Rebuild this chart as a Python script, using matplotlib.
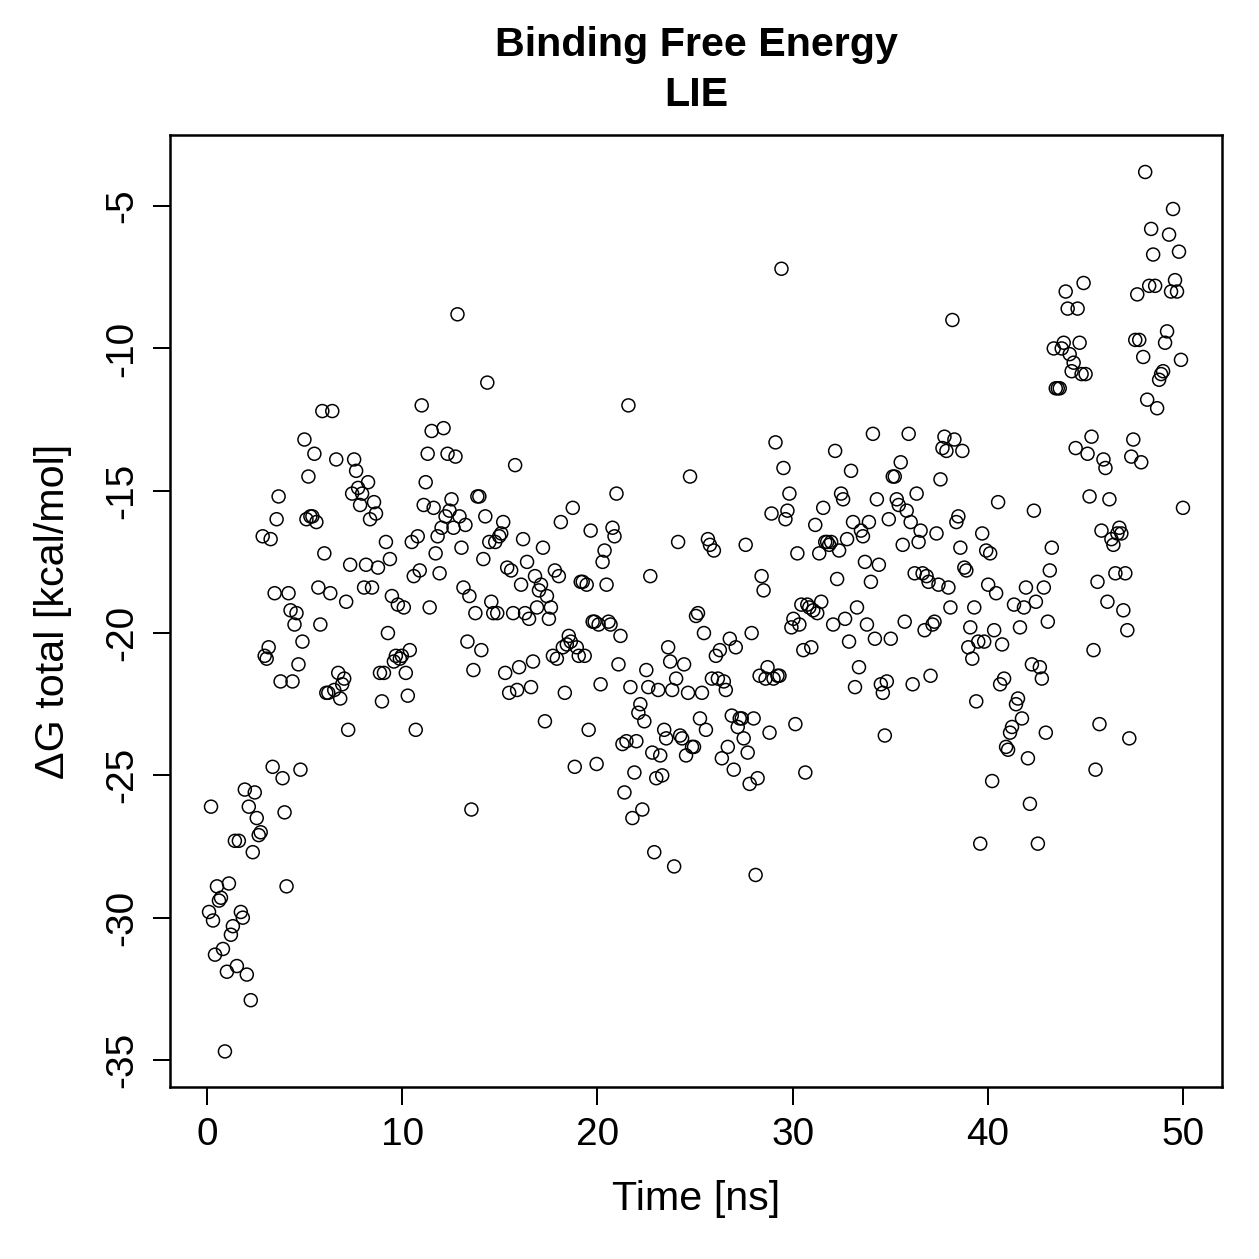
import numpy as np
import matplotlib
matplotlib.use("Agg")
import matplotlib.pyplot as plt

plt.rcParams["font.family"] = ["Liberation Sans", "DejaVu Sans"]

# dG total per frame [kcal/mol], 0-50 ns
dg_0_5 = [-29.8, -26.1, -30.1, -31.3, -28.9, -29.4, -29.3, -31.1, -34.7, -31.9,
          -28.8, -30.6, -30.3, -27.3, -31.7, -27.3, -29.8, -30.0, -25.5, -32.0,
          -26.1, -32.9, -27.7, -25.6, -26.5, -27.1, -27.0, -16.6, -20.8, -20.9,
          -20.5, -16.7, -24.7, -18.6, -16.0, -15.2, -21.7, -25.1, -26.3, -28.9,
          -18.6, -19.2, -21.7, -19.7, -19.3, -21.1, -24.8, -20.3, -13.2, -16.0,
          -14.5]
dg_5_10 = [-15.9, -15.9, -13.7, -16.1, -18.4, -19.7, -12.2, -17.2, -22.1, -22.1,
           -18.6, -12.2, -22.0, -13.9, -21.4, -22.3, -21.8, -21.6, -18.9, -23.4,
           -17.6, -15.1, -13.9, -14.3, -14.9, -15.5, -15.1, -18.4, -17.6, -14.7,
           -16.0, -18.4, -15.4, -15.8, -17.7, -21.4, -22.4, -21.4, -16.8, -20.0,
           -17.4, -18.7, -21.0, -20.8, -19.0, -20.9, -20.8, -19.1]
dg_10_15 = [-21.4, -22.2, -20.6, -16.8, -18.0, -23.4, -16.6, -17.8, -12.0, -15.5,
            -14.7, -13.7, -19.1, -12.9, -15.6, -17.2, -16.6, -17.9, -16.3, -12.8,
            -15.9, -13.7, -15.7, -15.3, -16.3, -13.8, -8.8, -15.9, -17.0, -18.4,
            -16.2, -20.3, -18.7, -26.2, -21.3, -19.3, -15.2, -15.2, -20.6, -17.4,
            -15.9, -11.2, -16.8, -18.9, -19.3, -16.8, -19.3, -16.6, -16.5]
dg_15_20 = [-16.1, -21.4, -17.7, -22.1, -17.8, -19.3, -14.1, -22.0, -21.2, -18.3,
            -16.7, -19.3, -17.5, -19.5, -21.9, -21.0, -18.0, -19.1, -18.5, -18.3,
            -17.0, -23.1, -18.7, -19.5, -19.1, -20.8, -17.8, -20.9, -18.0, -16.1,
            -20.5, -22.1, -20.4, -20.1, -20.3, -15.6, -24.7, -20.5, -20.8, -18.2,
            -18.2, -20.8, -18.3, -23.4, -16.4, -19.6, -19.6, -24.6, -19.7]
dg_20_25 = [-21.8, -17.5, -17.1, -18.3, -19.6, -19.7, -16.3, -16.6, -15.1, -21.1,
            -20.1, -23.9, -25.6, -23.8, -12.0, -21.9, -26.5, -24.9, -23.8, -22.8,
            -22.5, -26.2, -23.1, -21.3, -21.9, -18.0, -24.2, -27.7, -25.1, -22.0,
            -24.3, -25.0, -23.4, -23.7, -20.5, -21.0, -22.0, -28.2, -21.6, -16.8,
            -23.6, -23.7, -21.1, -24.3, -22.1, -14.5, -24.0, -24.0, -19.4]
dg_25_30 = [-19.3, -23.0, -22.1, -20.0, -23.4, -16.7, -16.9, -21.6, -17.1, -20.8,
            -21.6, -20.6, -24.4, -21.7, -22.0, -24.0, -20.2, -22.9, -24.8, -20.5,
            -23.3, -23.0, -23.0, -23.7, -16.9, -24.2, -25.3, -20.0, -23.0, -28.5,
            -25.1, -21.5, -18.0, -18.5, -21.6, -21.2, -23.5, -15.8, -21.6, -13.3,
            -21.5, -21.5, -7.2, -14.2, -16.0, -15.7, -15.1, -19.8, -19.5]
dg_30_35 = [-23.2, -17.2, -19.7, -19.0, -20.6, -24.9, -19.0, -19.1, -20.5, -19.2,
            -16.2, -19.3, -17.2, -18.9, -15.6, -16.8, -16.8, -16.9, -16.8, -19.7,
            -13.6, -18.1, -17.1, -15.1, -15.3, -19.5, -16.7, -20.3, -14.3, -16.1,
            -21.9, -19.1, -21.2, -16.4, -16.6, -17.5, -19.7, -16.1, -18.2, -13.0,
            -20.2, -15.3, -17.6, -21.8, -22.1, -23.6, -21.7, -16.0, -20.2]
dg_35_40 = [-14.5, -14.5, -15.3, -15.5, -14.0, -16.9, -19.6, -15.7, -13.0, -16.1,
            -21.8, -17.9, -15.1, -16.8, -16.4, -17.9, -19.9, -18.0, -18.2, -21.5,
            -19.7, -19.6, -16.5, -18.3, -14.6, -13.5, -13.1, -13.6, -18.4, -19.1,
            -9.0, -13.2, -16.1, -15.9, -17.0, -13.6, -17.7, -17.8, -20.5, -19.8,
            -20.9, -19.1, -22.4, -20.3, -27.4, -16.5, -20.3, -17.1, -18.3]
dg_40_45 = [-17.2, -25.2, -19.9, -18.6, -15.4, -21.8, -20.4, -21.6, -24.0, -24.1,
            -23.5, -23.3, -19.0, -22.5, -22.3, -19.8, -23.0, -19.1, -18.4, -24.4,
            -26.0, -21.1, -15.7, -18.9, -27.4, -21.2, -21.6, -18.4, -23.5, -19.6,
            -17.8, -17.0, -10.0, -11.4, -11.4, -11.4, -10.0, -9.8, -8.0, -8.6,
            -10.2, -10.8, -10.5, -13.5, -8.6, -9.8, -10.9, -7.7, -10.9]
dg_45_50 = [-13.7, -15.2, -13.1, -20.6, -24.8, -18.2, -23.2, -16.4, -13.9, -14.2,
            -18.9, -15.3, -16.7, -16.9, -17.9, -16.5, -16.3, -16.5, -19.2, -17.9,
            -19.9, -23.7, -13.8, -13.2, -9.7, -8.1, -9.7, -14.0, -10.3, -3.8,
            -11.8, -7.8, -5.8, -6.7, -7.8, -12.1, -11.1, -10.9, -10.8, -9.8,
            -9.4, -6.0, -8.0, -5.1, -7.6, -8.0, -6.6, -10.4, -15.6]

dg_total = (dg_0_5 + dg_5_10 + dg_10_15 + dg_15_20 + dg_20_25
            + dg_25_30 + dg_30_35 + dg_35_40 + dg_40_45 + dg_45_50)
# frames saved at a fixed interval over the 50 ns run
time_ns = np.linspace(0.1, 50.0, len(dg_total))

x_ticks = [0, 10, 20, 30, 40, 50]
y_ticks = [-35, -30, -25, -20, -15, -10, -5]

fig = plt.figure(figsize=(1259 / 180, 1259 / 180), dpi=180)
ax = fig.add_axes([170 / 1259, 1 - 1087 / 1259, (1222 - 170) / 1259, (1087 - 135) / 1259])

ax.scatter(time_ns, dg_total, s=27, facecolors="none", edgecolors="black", linewidths=0.6)

ax.set_xlim(-1.9, 52.0)
ax.set_ylim(-35.95, -2.5)
ax.set_xticks(x_ticks)
ax.set_yticks(y_ticks)
ax.set_yticklabels([str(v) for v in y_ticks], rotation=90, va="center")
ax.tick_params(direction="out", length=7, width=0.8, labelsize=15.5, pad=5, color="black")
for spine in ax.spines.values():
    spine.set_linewidth(1.0)

ax.set_xlabel("Time [ns]", fontsize=16.5, labelpad=11)
ax.set_ylabel("ΔG total [kcal/mol]", fontsize=16.5, labelpad=13)

# title is centred over the plot region, as R does
title_x = (170 + 1222) / 2 / 1259
fig.text(title_x, 1 - 45 / 1259, "Binding Free Energy", ha="center", va="center",
         fontsize=16.5, fontweight="bold")
fig.text(title_x, 1 - 95 / 1259, "LIE", ha="center", va="center",
         fontsize=16.5, fontweight="bold")

fig.savefig("out.png", dpi=180)
plt.close(fig)
